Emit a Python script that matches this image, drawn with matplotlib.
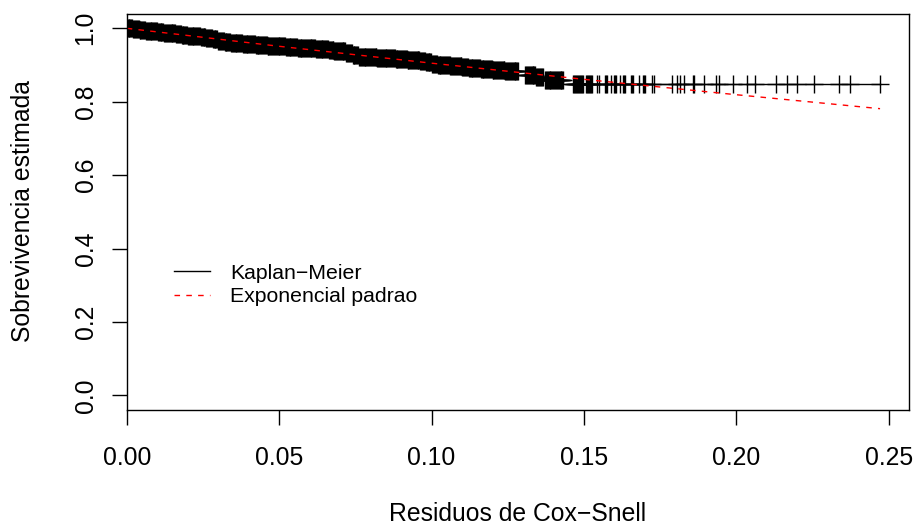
import numpy as np
import matplotlib
matplotlib.use("Agg")
import matplotlib.pyplot as plt

plt.rcParams['font.family'] = ['Liberation Sans', 'DejaVu Sans']

# Kaplan-Meier estimate of the Cox-Snell residuals (time, survival after step),
# read off the centre of the black band
km_time = [0.000, 0.002, 0.004, 0.006, 0.008, 0.010, 0.012, 0.014, 0.016, 0.018,
           0.020, 0.022, 0.024, 0.026, 0.028, 0.030, 0.032, 0.034, 0.036, 0.038,
           0.040, 0.042, 0.044, 0.046, 0.048, 0.050, 0.052, 0.054, 0.056, 0.058,
           0.060, 0.062, 0.064, 0.066, 0.068, 0.070, 0.072, 0.074, 0.076, 0.078,
           0.080, 0.082, 0.084, 0.086, 0.088, 0.090, 0.092, 0.094, 0.096, 0.098,
           0.100, 0.102, 0.104, 0.106, 0.108, 0.110, 0.112, 0.114, 0.116, 0.118,
           0.120, 0.122, 0.124, 0.1307, 0.1340, 0.1370, 0.1432]
km_surv = [1.000, 0.998, 0.996, 0.994, 0.992, 0.990, 0.988, 0.986, 0.984, 0.982,
           0.980, 0.978, 0.976, 0.974, 0.972, 0.966, 0.963, 0.960, 0.959, 0.958,
           0.956, 0.955, 0.954, 0.953, 0.952, 0.951, 0.950, 0.949, 0.947, 0.946,
           0.945, 0.944, 0.943, 0.941, 0.939, 0.937, 0.933, 0.928, 0.923, 0.922,
           0.921, 0.920, 0.919, 0.918, 0.917, 0.916, 0.914, 0.913, 0.911, 0.908,
           0.904, 0.901, 0.899, 0.898, 0.896, 0.894, 0.893, 0.891, 0.889, 0.888,
           0.887, 0.886, 0.885, 0.872, 0.867, 0.859, 0.847]
max_resid = 0.2471

# censored residuals: solid blocks of marks (too dense to read one by one)
dense_blocks = [(0.0, 0.1285), (0.1307, 0.1366), (0.1372, 0.1432)]
# censored residuals that can be read individually
censor_sparse = [0.1464, 0.1467, 0.1470, 0.1473, 0.1477, 0.1480, 0.1483, 0.1487,
                 0.1490, 0.1493, 0.1496, 0.1506, 0.1509, 0.1512, 0.1516, 0.1519,
                 0.1522, 0.1526, 0.1542, 0.1549, 0.1568, 0.1572, 0.1575, 0.1588,
                 0.1598, 0.1601, 0.1605, 0.1618, 0.1628, 0.1631, 0.1634, 0.1654,
                 0.1658, 0.1661, 0.1680, 0.1693, 0.1697, 0.1700, 0.1723, 0.1729,
                 0.1788, 0.1806, 0.1815, 0.1828, 0.1856, 0.1861, 0.1893, 0.1933,
                 0.1944, 0.1990, 0.2035, 0.2061, 0.2130, 0.2165, 0.2199, 0.2254,
                 0.2337, 0.2372, 0.2471]

# standard exponential survival, read at a few residual values
exp_time = [0.000, 0.050, 0.100, 0.150, 0.200, 0.2471]
exp_surv = [1.000, 0.951, 0.905, 0.861, 0.819, 0.781]

xticks = [0.00, 0.05, 0.10, 0.15, 0.20, 0.25]
xlabels = ["0.00", "0.05", "0.10", "0.15", "0.20", "0.25"]
yticks = [0.0, 0.2, 0.4, 0.6, 0.8, 1.0]
ylabels = ["0.0", "0.2", "0.4", "0.6", "0.8", "1.0"]

fs = 17.8      # axis text
fs_leg = 15.3  # legend text
fig = plt.figure(figsize=(9.15, 5.26), dpi=100)
ax = fig.add_axes([0.1385, 0.2205, 0.8553, 0.7536])

# KM step curve
step_t = km_time + [max_resid]
step_s = km_surv + [km_surv[-1]]
ax.step(step_t, step_s, where='post', color='black', lw=1.0, label='Kaplan\u2212Meier')

# censoring marks on the curve
censor = [t for a, b in dense_blocks for t in np.arange(a, b, 0.0003)] + censor_sparse
censor = np.array(censor)
idx = np.searchsorted(km_time, censor, side='right') - 1
ax.plot(censor, np.array(km_surv)[idx], '+', ms=12.7, mew=1.0, color='black')

ax.plot(exp_time, exp_surv, color='red', lw=1.0, dashes=(4, 4.5), label='Exponencial padrao')

ax.set_xlim(0, 0.2567)
ax.set_ylim(-0.04, 1.04)
ax.set_xticks(xticks)
ax.set_xticklabels(xlabels, fontsize=fs)
ax.set_yticks(yticks)
ax.set_yticklabels(ylabels, fontsize=fs, rotation=90, va='center')
ax.tick_params(axis='both', direction='out', length=10.5, width=1.0)
ax.tick_params(axis='x', pad=15.5)
ax.tick_params(axis='y', pad=10.5)
for sp in ax.spines.values():
    sp.set_linewidth(1.0)

ax.set_xlabel('Residuos de Cox\u2212Snell', fontsize=fs)
ax.xaxis.set_label_coords(0.5, -0.233)
ax.set_ylabel('Sobrevivencia estimada', fontsize=fs)
ax.yaxis.set_label_coords(-0.117, 0.502)

ax.legend(loc='upper left', bbox_to_anchor=(0.0608, 0.369), frameon=False,
          fontsize=fs_leg, handlelength=1.7, handletextpad=0.93, labelspacing=0.2,
          borderpad=0, borderaxespad=0)

fig.savefig('out.png', dpi=100)
